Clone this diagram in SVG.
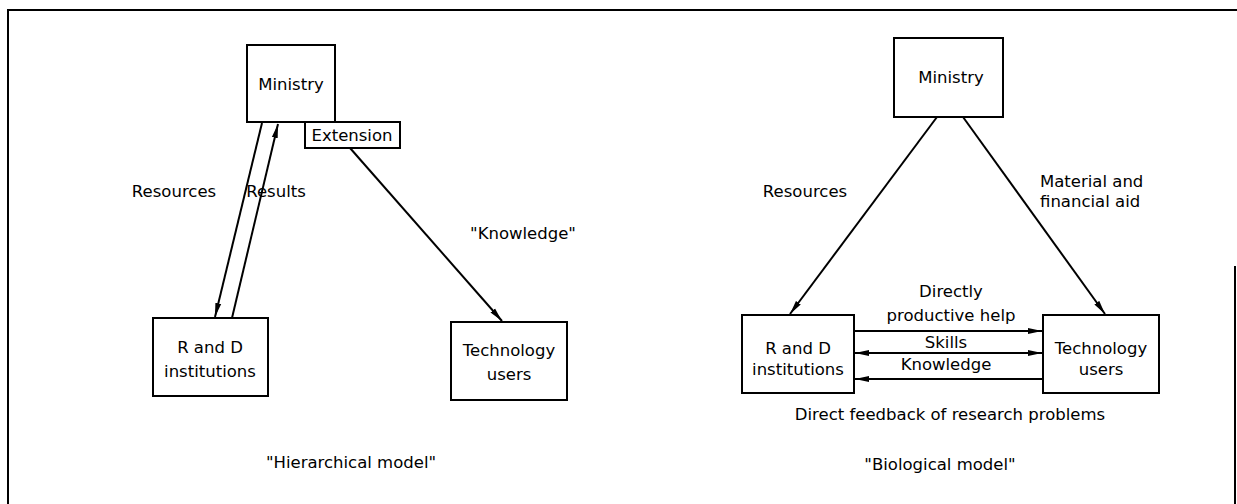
<svg xmlns="http://www.w3.org/2000/svg" width="1237" height="504" viewBox="0 0 1237 504">
  <style>
    .box { fill: #fff; stroke: #000; stroke-width: 2; }
    .ln { fill: none; stroke: #000; stroke-width: 2; }
    .lbl { font-family: "DejaVu Sans", "Liberation Sans", sans-serif; font-size: 16.5px; fill: #000; }
    .mid { text-anchor: middle; }
  </style>
  <defs>
    <marker id="head" viewBox="0 0 14 8" refX="14" refY="4" markerWidth="14" markerHeight="8" markerUnits="userSpaceOnUse" orient="auto-start-reverse">
      <path d="M0,1 L14,4 L0,7 Z" fill="#000"/>
    </marker>
  </defs>

  <!-- outer frame -->
  <g id="frame">
    <path class="ln" d="M1237,10 H8 V504" stroke-width="3"/>
    <path class="ln" d="M1235,266 V504" stroke-width="1.5"/>
  </g>

  <!-- connectors -->
  <g id="connectors">
    <!-- hierarchical -->
    <line class="ln" x1="262" y1="123" x2="215" y2="317" marker-end="url(#head)"/>
    <line class="ln" x1="232" y1="318" x2="278" y2="124" marker-end="url(#head)"/>
    <line class="ln" x1="350" y1="148" x2="502" y2="321" marker-end="url(#head)"/>
    <!-- biological -->
    <line class="ln" x1="937" y1="117" x2="790" y2="314" marker-end="url(#head)"/>
    <line class="ln" x1="963" y1="117" x2="1105" y2="314" marker-end="url(#head)"/>
    <line class="ln" x1="855" y1="331" x2="1042" y2="331" marker-end="url(#head)"/>
    <line class="ln" x1="855" y1="353" x2="1042" y2="353" marker-start="url(#head)" marker-end="url(#head)"/>
    <line class="ln" x1="1042" y1="379" x2="855" y2="379" marker-end="url(#head)"/>
  </g>

  <!-- hierarchical model nodes -->
  <g id="h-ministry">
    <rect class="box" x="247" y="45" width="88" height="77"/>
    <text class="lbl mid" x="291" y="90">Ministry</text>
  </g>
  <g id="h-extension">
    <rect class="box" x="305" y="122" width="95" height="26"/>
    <text class="lbl mid" x="352" y="141">Extension</text>
  </g>
  <g id="h-rnd">
    <rect class="box" x="153" y="318" width="115" height="78"/>
    <text class="lbl mid" x="210" y="353">R and D</text>
    <text class="lbl mid" x="210" y="377">institutions</text>
  </g>
  <g id="h-users">
    <rect class="box" x="451" y="322" width="116" height="78"/>
    <text class="lbl mid" x="509" y="356">Technology</text>
    <text class="lbl mid" x="509" y="380">users</text>
  </g>

  <!-- biological model nodes -->
  <g id="b-ministry">
    <rect class="box" x="894" y="38" width="109" height="79"/>
    <text class="lbl mid" x="951" y="83">Ministry</text>
  </g>
  <g id="b-rnd">
    <rect class="box" x="742" y="315" width="112" height="78"/>
    <text class="lbl mid" x="798" y="354">R and D</text>
    <text class="lbl mid" x="798" y="375">institutions</text>
  </g>
  <g id="b-users">
    <rect class="box" x="1043" y="315" width="116" height="78"/>
    <text class="lbl mid" x="1101" y="354">Technology</text>
    <text class="lbl mid" x="1101" y="375">users</text>
  </g>

  <!-- labels -->
  <g id="labels">
    <text class="lbl mid" x="174" y="197">Resources</text>
    <text class="lbl mid" x="276" y="197">Results</text>
    <text class="lbl mid" x="523" y="239">"Knowledge"</text>
    <text class="lbl mid" x="351" y="468">"Hierarchical model"</text>

    <text class="lbl mid" x="805" y="197">Resources</text>
    <text class="lbl" x="1040" y="187">Material and</text>
    <text class="lbl" x="1040" y="207">financial aid</text>
    <text class="lbl mid" x="951" y="297">Directly</text>
    <text class="lbl mid" x="951" y="321">productive help</text>
    <text class="lbl mid" x="946" y="348">Skills</text>
    <text class="lbl mid" x="946" y="370">Knowledge</text>
    <text class="lbl mid" x="950" y="420">Direct feedback of research problems</text>
    <text class="lbl mid" x="940" y="470">"Biological model"</text>
  </g>
</svg>
